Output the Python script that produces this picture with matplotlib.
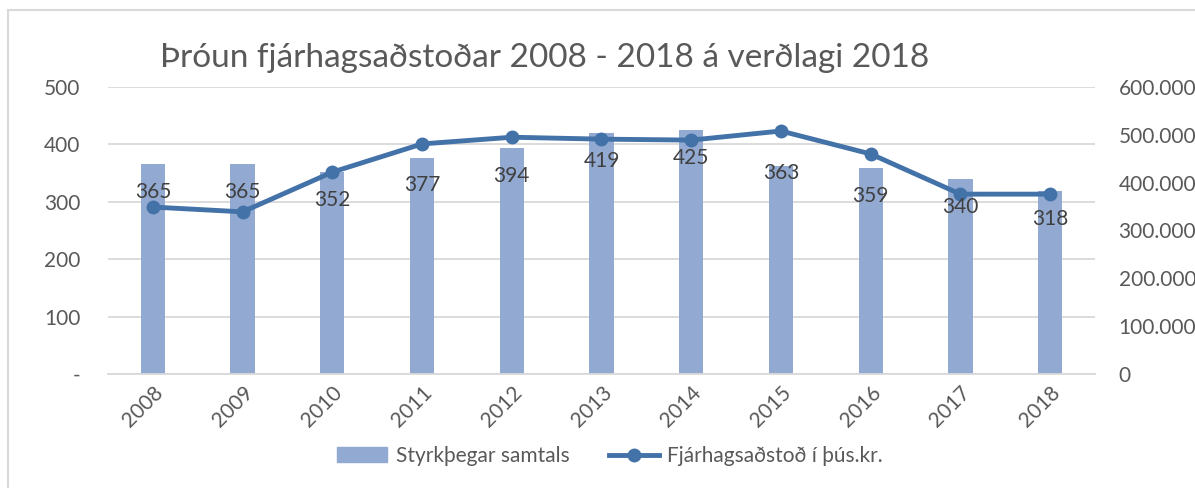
import matplotlib.pyplot as plt
from matplotlib.patches import Rectangle
from matplotlib.ticker import FuncFormatter, FixedLocator

plt.rcParams['font.family'] = ['Lato', 'DejaVu Sans']

years = ['2008', '2009', '2010', '2011', '2012', '2013', '2014', '2015', '2016', '2017', '2018']
styrkthegar = [365, 365, 352, 377, 394, 419, 425, 363, 359, 340, 318]
fjarhagsadstod = [349000, 339000, 422000, 481000, 495000, 491000, 489000, 508000, 460000, 376000, 376000]

txt = '#595959'
bar_c = '#92A9D1'
line_c = '#4372A8'
grid_c = '#D9D9D9'

fig = plt.figure(figsize=(11.95, 4.88), dpi=100)
# outer chart frame (cropped on the right)
fig.patches.append(Rectangle((8/1195, -0.1), 1.2, 1.1 - 10/488, transform=fig.transFigure,
                             fill=False, edgecolor=grid_c, linewidth=1.5))

ax = fig.add_axes([108/1195, 1 - 374/488, 987/1195, 287/488])
x = list(range(len(years)))
ax.bar(x, styrkthegar, width=0.27, color=bar_c, zorder=2)
ax.set_ylim(0, 500)
ax.set_xlim(-0.5, len(years) - 0.5)
ax.yaxis.set_major_locator(FixedLocator([0, 100, 200, 300, 400, 500]))
ax.yaxis.set_major_formatter(FuncFormatter(lambda v, p: '-' if v == 0 else '%d' % v))
ax.grid(axis='y', color=grid_c, linewidth=1.3, zorder=0)
ax.set_axisbelow(True)
for s in ['top', 'right', 'left']:
    ax.spines[s].set_visible(False)
ax.spines['bottom'].set_color(grid_c)
ax.spines['bottom'].set_linewidth(1.3)
ax.tick_params(axis='y', length=0, pad=20, labelsize=15, labelcolor=txt)
ax.tick_params(axis='x', length=0, pad=6, labelsize=15, labelcolor=txt)
ax.set_xticks(x)
ax.set_xticklabels(years, rotation=45, ha='right', rotation_mode='anchor')

ax2 = ax.twinx()
ax2.plot(x, fjarhagsadstod, color=line_c, linewidth=3.5, marker='o', markersize=9, zorder=3)
ax2.set_ylim(0, 600000)
ax2.yaxis.set_major_locator(FixedLocator([0, 100000, 200000, 300000, 400000, 500000, 600000]))
ax2.yaxis.set_major_formatter(FuncFormatter(lambda v, p: '{:,.0f}'.format(v).replace(',', '.')))
ax2.tick_params(axis='y', length=0, pad=17, labelsize=15, labelcolor=txt)
for s in ['top', 'right', 'left', 'bottom']:
    ax2.spines[s].set_visible(False)

# data labels for bars
for i, v in enumerate(styrkthegar):
    off = -5 if years[i] == '2015' else -20
    ax2.annotate(str(v), xy=(i, v * 1200), xytext=(0, off), textcoords='offset points',
                 ha='center', va='center', fontsize=15, color='#404040', zorder=5)

fig.text(545/1195, 1 - 58/488, 'Þróun fjárhagsaðstoðar 2008 - 2018 á verðlagi 2018',
         ha='center', va='center', fontsize=24, color=txt)

h1 = Rectangle((0, 0), 1, 1, color=bar_c)
h2, = ax2.plot([], [], color=line_c, linewidth=3.5, marker='o', markersize=9)
fig.legend([h1, h2], ['Styrkþegar samtals', 'Fjárhagsaðstoð í þús.kr.'], loc='center',
           bbox_to_anchor=(610/1195, 1 - 456/488), ncol=2, frameon=False, fontsize=15,
           labelcolor=txt, handlelength=2.4, handletextpad=0.4, columnspacing=1.9)

fig.savefig('out.png', dpi=100)
